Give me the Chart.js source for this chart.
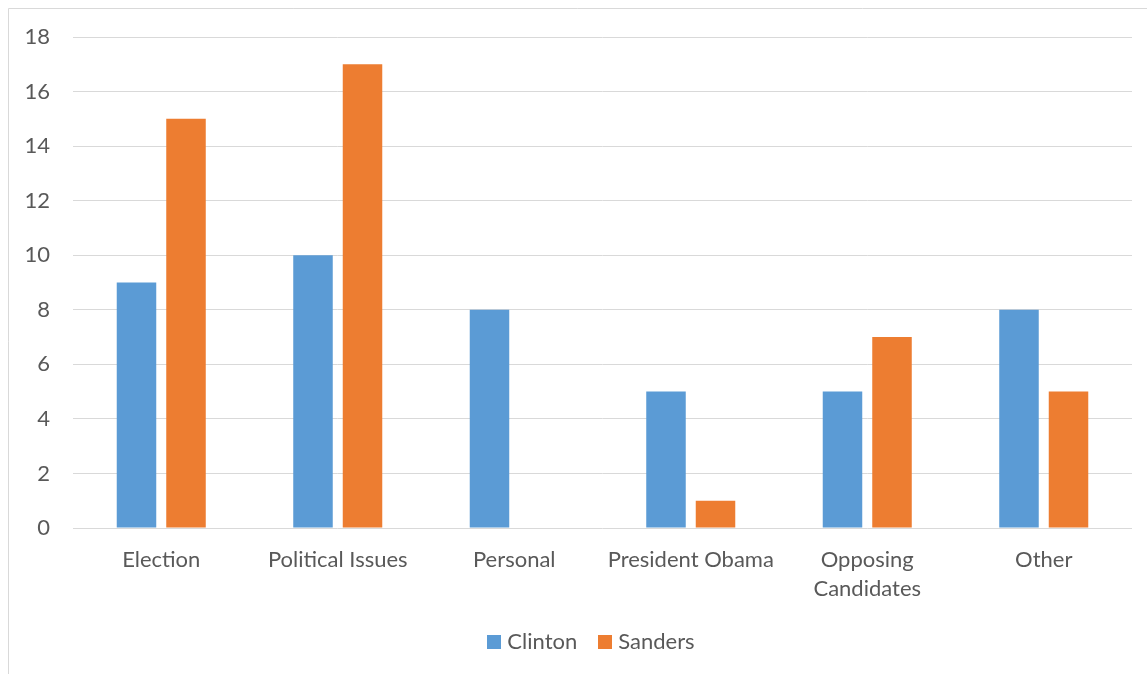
<!DOCTYPE html>
<html>
<head>
<meta charset="utf-8">
<script src="https://cdn.jsdelivr.net/npm/chart.js@4.4.0/dist/chart.umd.min.js"></script>
<style>
  html, body { margin: 0; padding: 0; background: #ffffff; overflow: hidden; }
  #wrap { position: relative; width: 1147px; height: 674px; }
</style>
</head>
<body>
<div id="wrap"><canvas id="chart" width="1147" height="674"></canvas></div>
<script>
const categories = ['Election', 'Political Issues', 'Personal', 'President Obama', ['Opposing', 'Candidates'], 'Other'];
const clintonValues = [9, 10, 8, 5, 5, 8];
const sandersValues = [15, 17, 0, 1, 7, 5];
const seriesNames = ['Clinton', 'Sanders'];
const seriesColors = ['#5B9BD5', '#ED7D31'];
const yTicks = { min: 0, max: 18, step: 2 };

const FONT = 'Lato, Calibri, "Open Sans", sans-serif';
const FONT_SIZE = 22;
const TEXT = '#595959';
const GRID = '#d9d9d9';

// Frame lines along the left and top edges of the chart object
const framePlugin = {
  id: 'frame',
  beforeDraw(chart) {
    const ctx = chart.ctx;
    ctx.save();
    ctx.fillStyle = '#ffffff';
    ctx.fillRect(0, 0, chart.width, chart.height);
    ctx.strokeStyle = GRID;
    ctx.lineWidth = 1;
    ctx.beginPath();
    ctx.moveTo(8.5, chart.height);
    ctx.lineTo(8.5, 8.5);
    ctx.lineTo(chart.width, 8.5);
    ctx.stroke();
    ctx.restore();
  }
};

// Bottom legend: square swatch followed by the series name
const legendPlugin = {
  id: 'bottomLegend',
  afterDraw(chart) {
    const ctx = chart.ctx;
    const box = 14, gapText = 6, gapItem = 21, centerX = 591, centerY = 642;
    ctx.save();
    ctx.font = FONT_SIZE + 'px ' + FONT;
    ctx.textBaseline = 'middle';
    const items = chart.data.datasets.map(ds => ({
      label: ds.label, color: ds.backgroundColor, w: ctx.measureText(ds.label).width
    }));
    let total = 0;
    items.forEach((it, i) => { total += box + gapText + it.w + (i ? gapItem : 0); });
    let x = centerX - total / 2;
    items.forEach(it => {
      ctx.fillStyle = it.color;
      ctx.fillRect(Math.round(x), centerY - box / 2, box, box);
      ctx.fillStyle = TEXT;
      ctx.fillText(it.label, x + box + gapText, centerY);
      x += box + gapText + it.w + gapItem;
    });
    ctx.restore();
  }
};

new Chart(document.getElementById('chart'), {
  type: 'bar',
  data: {
    labels: categories,
    datasets: [
      { label: seriesNames[0], data: clintonValues, backgroundColor: seriesColors[0] },
      { label: seriesNames[1], data: sandersValues, backgroundColor: seriesColors[1] }
    ]
  },
  options: {
    responsive: false,
    animation: false,
    devicePixelRatio: 1,
    layout: { padding: { top: 37, right: 15, bottom: 0, left: 0 } },
    datasets: { bar: { categoryPercentage: 0.561, barPercentage: 0.798 } },
    plugins: { legend: { display: false }, tooltip: { enabled: false } },
    scales: {
      x: {
        grid: { display: false, drawTicks: false },
        border: { display: false },
        ticks: {
          color: TEXT, padding: 17, maxRotation: 0, autoSkip: false,
          font: { family: FONT, size: FONT_SIZE, lineHeight: 29 / FONT_SIZE }
        },
        afterFit(scale) { scale.height = 146; }
      },
      y: {
        min: yTicks.min, max: yTicks.max,
        grid: { color: GRID, lineWidth: 1, drawTicks: false },
        border: { display: false },
        ticks: {
          stepSize: yTicks.step, color: TEXT, padding: 23,
          font: { family: FONT, size: FONT_SIZE }
        },
        afterFit(scale) { scale.width = 73; }
      }
    }
  },
  plugins: [framePlugin, legendPlugin]
});
</script>
</body>
</html>
